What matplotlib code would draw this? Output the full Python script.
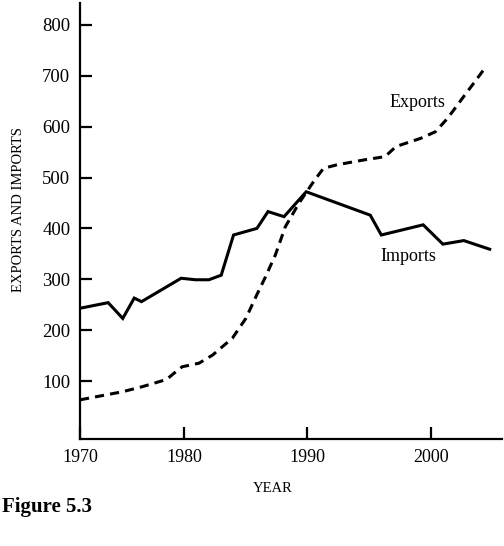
import numpy as np
import matplotlib
matplotlib.use("Agg")
import matplotlib.pyplot as plt

plt.rcParams['font.family'] = ['Liberation Serif', 'DejaVu Serif']

# Data
imports_years = [1970, 1972.7, 1974.1, 1975.2, 1975.9, 1979.7, 1980.9, 1982.0, 1983.0,
                 1984.0, 1985.9, 1986.8, 1988.1, 1989.9, 1995.1, 1996.0, 1999.4,
                 2001.0, 2002.7, 2004.8]
imports_vals = [243, 254, 223, 263, 256, 302, 299, 299, 308,
                387, 400, 433, 423, 472, 426, 387, 407,
                369, 376, 359]

exports_years = [1970, 1974.1, 1976.0, 1978.3, 1979.0, 1979.8, 1981.2, 1982.3, 1983.9,
                 1985.0, 1985.9, 1986.6, 1987.4, 1988.2, 1989.3, 1990.5, 1991.3,
                 1992.4, 1994.7, 1996.3, 1997.2, 1999.2, 2000.4, 2001.4, 2002.5,
                 2003.8, 2004.5]
exports_vals = [63, 79, 89, 103, 115, 128, 135, 151, 184,
                223, 270, 305, 348, 403, 449, 492, 518,
                525, 535, 541, 561, 577, 590, 617, 653,
                695, 718]

x_ticks = [1970, 1980, 1990, 2000]
y_ticks = [100, 200, 300, 400, 500, 600, 700, 800]


def fwd(x):
    x = np.asarray(x, dtype=float)
    return np.where(x < 1980, (x - 1970) * 10.5, 105 + (x - 1980) * 12.4)


def inv(u):
    u = np.asarray(u, dtype=float)
    return np.where(u < 105, 1970 + u / 10.5, 1980 + (u - 105) / 12.4)


fig = plt.figure(figsize=(5.04, 5.46), dpi=100)
ax = fig.add_axes([80 / 504, 107 / 546, 422 / 504, 436 / 546])
ax.set_xscale('function', functions=(fwd, inv))

ax.plot(imports_years, imports_vals, color='black', lw=2.2, solid_joinstyle='miter')
ax.plot(exports_years, exports_vals, color='black', lw=2.2, linestyle=(0, (3, 2)))

ax.set_xlim(1970, 2005.8)
ax.set_ylim(-14, 843)
ax.set_xticks(x_ticks)
ax.set_xticklabels([str(t) for t in x_ticks])
ax.set_yticks(y_ticks)
ax.set_yticklabels([str(t) for t in y_ticks])

for s in ['top', 'right']:
    ax.spines[s].set_visible(False)
for s in ['left', 'bottom']:
    ax.spines[s].set_linewidth(1.6)

ax.tick_params(axis='both', direction='in', length=8.5, width=1.6, colors='black')
ax.tick_params(axis='x', labelsize=13, pad=7)
ax.tick_params(axis='y', labelsize=13.5, pad=7)

ax.text(1998.9, 647, 'Exports', fontsize=13, ha='center', va='center')
ax.text(1998.2, 344, 'Imports', fontsize=13, ha='center', va='center')

fig.text(273 / 504, 1 - 488 / 546, 'YEAR', fontsize=10.5, ha='center', va='center')
fig.text(18.5 / 504, 1 - 209 / 546, 'EXPORTS AND IMPORTS', fontsize=10.5,
         rotation=90, ha='center', va='center')
fig.text(2 / 504, 1 - 507 / 546, 'Figure 5.3', fontsize=15, fontweight='bold',
         ha='left', va='center')

fig.savefig('out.png', dpi=100, facecolor='white')
